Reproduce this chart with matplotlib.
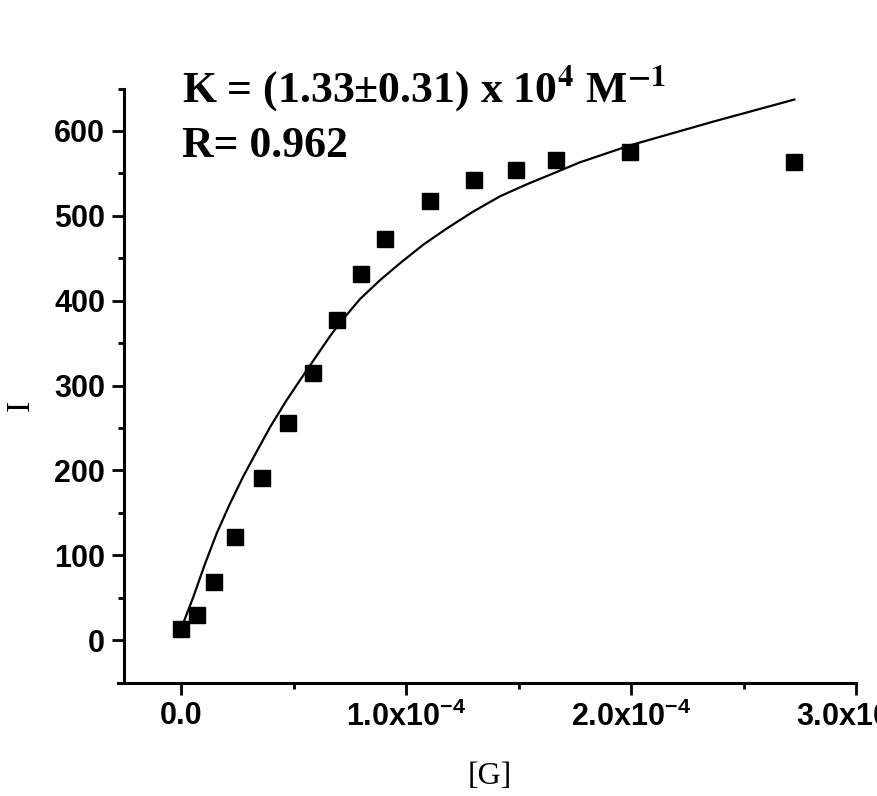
import matplotlib
matplotlib.use("Agg")
import matplotlib.pyplot as plt
import numpy as np

# ---- data (G in units of 1e-4 M) ----
g_points = [0.0, 0.072, 0.147, 0.241, 0.36, 0.476, 0.585, 0.695, 0.80, 0.908,
            1.108, 1.302, 1.488, 1.665, 1.997, 2.723]
i_points = [13, 29, 68, 122, 191, 256, 315, 377, 431, 473,
            517, 542, 554, 566, 575, 563]

# fitted curve
g_fit = [0.010, 0.055, 0.107, 0.159, 0.218, 0.277, 0.336, 0.396, 0.470, 0.559,
         0.662, 0.707, 0.796, 0.884, 0.973, 1.077, 1.181, 1.299, 1.418, 1.536,
         1.655, 1.773, 1.996, 2.366, 2.726]
i_fit = [20, 51, 90, 126, 161, 193, 222, 251, 283, 318,
         358, 374, 402, 424, 444, 466, 485, 505, 523, 537,
         550, 563, 583, 611, 637]

x_ticks = [0.0, 1.0, 2.0, 3.0]
x_ticklabels = ["0.0", r"$\mathbf{1.0x10^{-4}}$", r"$\mathbf{2.0x10^{-4}}$", r"$\mathbf{3.0x10^{-4}}$"]
y_ticks = [0, 100, 200, 300, 400, 500, 600]
y_ticklabels = ["0", "100", "200", "300", "400", "500", "600"]

line1 = r"K = (1.33±0.31) x 10$^{\mathbf{4}}$ M$^{\mathbf{-1}}$"
line2 = "R= 0.962"

scale = 1e-4

plt.rcParams['mathtext.fontset'] = 'custom'
plt.rcParams['mathtext.rm'] = 'Liberation Sans:bold'
plt.rcParams['mathtext.bf'] = 'Liberation Sans:bold'
plt.rcParams['mathtext.it'] = 'Liberation Sans:bold'

W, H = 877, 796
fig = plt.figure(figsize=(W / 100, H / 100), dpi=100)
ax_left, ax_right, ax_top, ax_bottom = 124, 856, 88.5, 682.5
ax = fig.add_axes([ax_left / W, 1 - ax_bottom / H, (ax_right - ax_left) / W, (ax_bottom - ax_top) / H])

ax.plot(np.array(g_fit) * scale, i_fit, color='black', lw=1.6, zorder=2,
        solid_joinstyle='round')
ax.plot(np.array(g_points) * scale, i_points, linestyle='none', marker='s',
        markersize=11.5, color='black', zorder=3)

x0 = (124 - 181) / 225
ax.set_xlim(x0 * scale, 3.0 * scale)
ax.set_ylim(-50, 650)

for s in ['top', 'right']:
    ax.spines[s].set_visible(False)
for s in ['left', 'bottom']:
    ax.spines[s].set_linewidth(2.2)
ax.spines['bottom'].set_bounds(-0.28 * scale, 3.0 * scale)
ax.spines['bottom'].set_clip_on(False)

ax.set_xticks([t * scale for t in x_ticks])
ax.set_xticklabels(x_ticklabels)
ax.set_xticks([t * scale for t in [0.5, 1.5, 2.5]], minor=True)
ax.set_yticks(y_ticks)
ax.set_yticklabels(y_ticklabels)
ax.set_yticks([-50, 50, 150, 250, 350, 450, 550, 650], minor=True)

ax.tick_params(which='major', direction='out', length=8.6, width=2.0, pad=5)
ax.tick_params(which='minor', direction='out', length=4.5, width=2.0)
for lab in ax.get_xticklabels() + ax.get_yticklabels():
    lab.set_fontfamily('Liberation Sans')
    lab.set_fontweight('bold')
    lab.set_fontsize(22)

ax.set_xlabel("[G]", fontfamily='Liberation Serif', fontsize=23, va='center')
ax.set_ylabel("I", fontfamily='Liberation Serif', fontsize=24, va='center')
ax.xaxis.set_label_coords(0.5, (ax_bottom - 776) / (ax_bottom - ax_top))
ax.yaxis.set_label_coords((21 - ax_left) / (ax_right - ax_left), (ax_bottom - 405) / (ax_bottom - ax_top))

fig.text(182 / W, 1 - 103 / H, line1, fontfamily='Liberation Serif', fontweight='bold',
         fontsize=31.5, math_fontfamily='stix', va='baseline', ha='left')
fig.text(182 / W, 1 - 157 / H, line2, fontfamily='Liberation Serif', fontweight='bold',
         fontsize=31.5, va='baseline', ha='left')

fig.savefig("out.png", dpi=100)
